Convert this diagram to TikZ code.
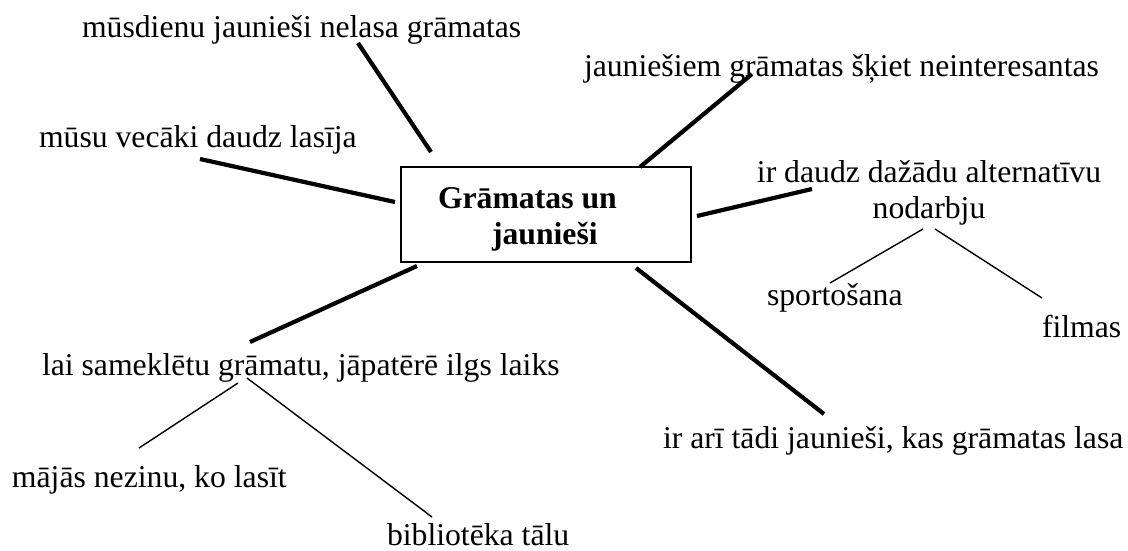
\documentclass[tikz,border=0pt]{standalone}
\usepackage{fontspec}
\setmainfont{Liberation Serif}
\begin{document}
\begin{tikzpicture}[x=1pt,y=-1pt,
  every node/.style={inner sep=0pt, outer sep=0pt, font=\fontsize{31.7}{36}\selectfont},
  lbl/.style={anchor=base west},
  clbl/.style={anchor=base},
  boldlbl/.style={anchor=base west, font=\fontsize{31.7}{36}\selectfont\bfseries},
  centerbox/.style={draw, line width=1.5pt, minimum width=290pt, minimum height=95pt},
  mainlink/.style={line width=4.2pt},
  sublink/.style={line width=1.4pt}]
\useasboundingbox (0,0) rectangle (1128,550);
% central box
\node[centerbox] (box) at (546,214.5) {};
\node[boldlbl] (boxa) at (438,208) {Grāmatas un};
\node[boldlbl] (boxb) at (492,244) {jaunieši};
% labels
\node[lbl] (t1) at (82,37) {mūsdienu jaunieši nelasa grāmatas};
\node[lbl] (t2) at (39,147) {mūsu vecāki daudz lasīja};
\node[lbl] (t3) at (584,76) {jauniešiem grāmatas šķiet neinteresantas};
\node[clbl] (t4a) at (929,182) {ir daudz dažādu alternatīvu};
\node[clbl] (t4b) at (929,218) {nodarbju};
\node[lbl] (t4s) at (767,305) {sportošana};
\node[lbl] (t4f) at (1042,337) {filmas};
\node[lbl] (t5) at (42,375) {lai sameklētu grāmatu, jāpatērē ilgs laiks};
\node[lbl] (t5a) at (12,487) {mājās nezinu, ko lasīt};
\node[lbl] (t5b) at (387,545) {bibliotēka tālu};
\node[lbl] (t6) at (663,448) {ir arī tādi jaunieši, kas grāmatas lasa};
% connector end points
\coordinate (l1a) at (358,43);  \coordinate (l1b) at (431,152);
\coordinate (l2a) at (200,159); \coordinate (l2b) at (395,202);
\coordinate (l3a) at (752,74);  \coordinate (l3b) at (640,167);
\coordinate (l4a) at (697,216); \coordinate (l4b) at (812,189);
\coordinate (l5a) at (636,268); \coordinate (l5b) at (824,414);
\coordinate (l6a) at (417,266); \coordinate (l6b) at (250,342);
\coordinate (s1a) at (923,229); \coordinate (s1b) at (830,283);
\coordinate (s2a) at (935,229); \coordinate (s2b) at (1042,298);
\coordinate (s3a) at (238,383); \coordinate (s3b) at (139,448);
\coordinate (s4a) at (247,378); \coordinate (s4b) at (432,517);
% connectors
\draw[mainlink] (l1a) -- (l1b);
\draw[mainlink] (l2a) -- (l2b);
\draw[mainlink] (l3a) -- (l3b);
\draw[mainlink] (l4a) -- (l4b);
\draw[mainlink] (l5a) -- (l5b);
\draw[mainlink] (l6a) -- (l6b);
\draw[sublink] (s1a) -- (s1b);
\draw[sublink] (s2a) -- (s2b);
\draw[sublink] (s3a) -- (s3b);
\draw[sublink] (s4a) -- (s4b);
\end{tikzpicture}
\end{document}
